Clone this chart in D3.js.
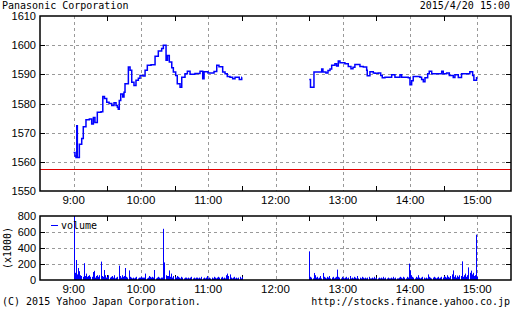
<!DOCTYPE html>
<html>
<head>
<meta charset="utf-8">
<script src="https://cdn.jsdelivr.net/npm/d3@7"></script>
<style>
  body { margin: 0; background: #fff; }
  svg { display: block; }
  .mono { font-family: "DejaVu Sans Mono", monospace; font-size: 10px; }
  .tick-label { font-family: "Liberation Sans", Arial, sans-serif; font-size: 11px; }
  .time-label { font-family: "Liberation Sans", Arial, sans-serif; font-size: 11.5px; }
</style>
</head>
<body>
<div id="chart"></div>
<script>
// minutes after 9:00 and price (yen), morning / afternoon sessions
var amTimes = [0, 1.2, 2.1, 2.8, 3.3, 5.1, 7.2, 8.6, 11, 14, 16.1, 17.6, 19, 21.1, 24.4, 26, 27.5, 29.5, 31.6, 34, 36, 37.8, 39, 39.8, 40.7, 42, 43.8, 44.9, 45.8, 48.8, 50.3, 51.8, 53.8, 55.6, 57.7, 59.2, 61.9, 63.7, 65.7, 69, 72.6, 75.5, 78.5, 80, 82.4, 83.7, 85.3, 87.5, 88.9, 91, 92.4, 94.9, 96.4, 99.3, 101.4, 103.8, 108.2, 112.7, 115.1, 116.3, 119.8, 125.2, 127.6, 129.6, 132.9, 135, 137, 139.4, 141.8, 143.9, 147.7, 149.9, 150];
var amPrices = [1563.2, 1562, 1561.5, 1572.4, 1561.5, 1566, 1568, 1572, 1574.4, 1574.7, 1573, 1575.2, 1573.5, 1577, 1577.2, 1582.4, 1581.7, 1580.4, 1580, 1579.3, 1580.3, 1579.3, 1578.7, 1578, 1581, 1583.3, 1582.2, 1583.9, 1586.8, 1592.5, 1591.4, 1587.3, 1586.2, 1588, 1588.7, 1589.6, 1589.4, 1591.4, 1593.1, 1593.3, 1596.2, 1598, 1598.9, 1600, 1594.8, 1596.5, 1594.2, 1592.3, 1590.8, 1589.6, 1586.8, 1585.6, 1589, 1590.2, 1591.1, 1590, 1590.3, 1591.1, 1588.5, 1590.9, 1590.5, 1591, 1593.1, 1592.6, 1590.8, 1590.2, 1589.3, 1589, 1588.5, 1589, 1588.2, 1589, 1589];
var pmTimes = [210.1, 211.2, 213.4, 214.3, 219.7, 221.2, 222.3, 225, 226.8, 228.6, 230.1, 233, 234.5, 236, 237.5, 241.9, 244.9, 247.3, 249.1, 250.8, 253.8, 255.3, 258.3, 261.3, 261.8, 264.2, 267.2, 268.7, 271.6, 273.8, 275.2, 277.6, 282.1, 283.6, 286.5, 291, 292.5, 298.4, 299.9, 301.4, 302.8, 308.8, 310.3, 311.8, 313.3, 315.7, 317.1, 319.3, 325.8, 328.2, 329.6, 332.6, 335, 338.5, 340, 343, 345.9, 351.8, 353.3, 355.8, 356.9, 359.3, 360];
var pmPrices = [1588.2, 1585.6, 1585.6, 1590.8, 1590.8, 1591.8, 1590.8, 1590.5, 1591.3, 1591.8, 1593.1, 1593.6, 1592.9, 1594.6, 1594, 1593.6, 1592.7, 1591.9, 1592.4, 1593.4, 1593.4, 1592.7, 1592.5, 1591.4, 1589.5, 1590.9, 1590.5, 1590.4, 1590.5, 1589.6, 1588.8, 1589, 1589, 1589.9, 1589, 1589.9, 1589, 1588.8, 1586.4, 1587.8, 1589.3, 1589, 1588.2, 1587.5, 1588.8, 1590.2, 1591.1, 1590.2, 1590.2, 1591.1, 1590.2, 1590.5, 1589.6, 1588.9, 1589.9, 1588.9, 1590.2, 1590.2, 1590.9, 1589.6, 1588, 1588.8, 1588.8];
var prevClose = 1557.7;

// volume (x1000) per minute, 9:00-11:30 and 12:30-15:00
var amVolume = [800,
  90, 250, 70, 150, 110, 60, 50, 40, 210, 50,
  80, 40, 50, 60, 40, 40, 100, 115, 30, 50,
  60, 40, 60, 230, 50, 40, 125, 60, 30, 40,
  60, 30, 40, 50, 30, 60, 20, 30, 40, 180,
  50, 30, 60, 40, 50, 150, 40, 30, 120, 40,
  30, 20, 30, 20, 30, 40, 20, 30, 30, 40,
  30, 30, 30, 80, 20, 30, 50, 40, 30, 40,
  30, 125, 20, 30, 40, 30, 20, 30, 30, 640,
  220, 60, 50, 50, 120, 40, 80, 30, 50, 40,
  30, 50, 40, 30, 20, 40, 30, 20, 30, 30,
  20, 30, 20, 30, 40, 20, 30, 20, 30, 30,
  20, 30, 20, 40, 20, 30, 20, 30, 50, 20,
  30, 20, 30, 20, 40, 30, 20, 30, 40, 30,
  30, 40, 20, 30, 20, 60, 80, 50, 70, 30,
  20, 30, 40, 20, 30, 20, 30, 40, 20, 40];
var pmVolume = [358,
  40, 30, 20, 88, 60, 30, 40, 20, 30, 50,
  20, 88, 40, 30, 20, 40, 30, 50, 20, 30,
  40, 20, 30, 40, 130, 40, 30, 20, 40, 30,
  20, 30, 40, 20, 30, 50, 20, 30, 20, 40,
  30, 20, 50, 20, 30, 20, 40, 30, 20, 30,
  20, 30, 40, 20, 20, 30, 20, 40, 20, 30,
  20, 30, 20, 30, 20, 40, 20, 30, 20, 30,
  20, 20, 30, 20, 40, 20, 30, 20, 20, 30,
  40, 30, 20, 40, 30, 20, 40, 30, 205, 120,
  60, 40, 30, 20, 40, 30, 60, 30, 20, 30,
  40, 30, 20, 30, 20, 70, 40, 30, 20, 30,
  40, 30, 20, 30, 40, 20, 30, 40, 30, 50,
  40, 30, 60, 40, 30, 50, 70, 120, 40, 60,
  30, 55, 40, 60, 50, 233, 40, 60, 80, 40,
  60, 158, 90, 117, 70, 90, 50, 60, 567, 40];

var hourTicks = [0, 60, 120, 180, 240, 300, 360];
var hourLabels = ["9:00", "10:00", "11:00", "12:00", "13:00", "14:00", "15:00"];
var halfTicks = [-30, 30, 90, 150, 210, 270, 330, 390];
var priceTicks = [1550, 1560, 1570, 1580, 1590, 1600, 1610];
var volumeTicks = [0, 200, 400, 600, 800];

var width = 512, height = 310;
var plot = {left: 40, right: 511, top: 16, bottom: 191};
var vplot = {top: 216, bottom: 280};

var svg = d3.select('#chart')
  .append('svg')
    .attr('width', width)
    .attr('height', height);

var x = d3.scaleLinear()
  .domain([-30, 390])
  .range([plot.left, plot.right]);

var y = d3.scaleLinear()
  .domain([1550, 1610])
  .range([plot.bottom, plot.top]);

var yv = d3.scaleLinear()
  .domain([0, 800])
  .range([vplot.bottom, vplot.top]);

function panel(top, bottom, yScale, yTicks, gridTicks) {
  var g = svg.append('g');

  // dashed grid
  g.selectAll('.vgrid')
    .data(hourTicks)
    .enter().append('line')
      .attr('x1', function(d) { return Math.round(x(d)) + 0.5; })
      .attr('x2', function(d) { return Math.round(x(d)) + 0.5; })
      .attr('y1', top)
      .attr('y2', bottom)
      .attr('stroke', '#999')
      .attr('stroke-dasharray', '3,3');

  g.selectAll('.hgrid')
    .data(gridTicks)
    .enter().append('line')
      .attr('x1', plot.left)
      .attr('x2', plot.right)
      .attr('y1', function(d) { return Math.round(yScale(d)) + 0.5; })
      .attr('y2', function(d) { return Math.round(yScale(d)) + 0.5; })
      .attr('stroke', '#999')
      .attr('stroke-dasharray', '3,3');

  // inward ticks
  var inner = yTicks.slice(1, -1);
  g.selectAll('.ltick')
    .data(inner)
    .enter().append('line')
      .attr('x1', plot.left).attr('x2', plot.left + 5)
      .attr('y1', function(d) { return Math.round(yScale(d)) + 0.5; })
      .attr('y2', function(d) { return Math.round(yScale(d)) + 0.5; })
      .attr('stroke', '#000');
  g.selectAll('.rtick')
    .data(inner)
    .enter().append('line')
      .attr('x1', plot.right - 5).attr('x2', plot.right)
      .attr('y1', function(d) { return Math.round(yScale(d)) + 0.5; })
      .attr('y2', function(d) { return Math.round(yScale(d)) + 0.5; })
      .attr('stroke', '#000');
  g.selectAll('.btick')
    .data(halfTicks.slice(1, -1))
    .enter().append('line')
      .attr('x1', function(d) { return Math.round(x(d)) + 0.5; })
      .attr('x2', function(d) { return Math.round(x(d)) + 0.5; })
      .attr('y1', bottom - 5).attr('y2', bottom)
      .attr('stroke', '#000');
  g.selectAll('.ttick')
    .data(halfTicks.slice(1, -1))
    .enter().append('line')
      .attr('x1', function(d) { return Math.round(x(d)) + 0.5; })
      .attr('x2', function(d) { return Math.round(x(d)) + 0.5; })
      .attr('y1', top).attr('y2', top + 5)
      .attr('stroke', '#000');

  // labels
  g.selectAll('.ylab')
    .data(yTicks)
    .enter().append('text')
      .attr('class', 'tick-label')
      .attr('x', plot.left - 4)
      .attr('y', function(d) { return yScale(d) + 4; })
      .attr('text-anchor', 'end')
      .text(function(d) { return d; });

  g.selectAll('.xlab')
    .data(hourTicks)
    .enter().append('text')
      .attr('class', 'time-label')
      .attr('x', function(d) { return x(d); })
      .attr('y', bottom + 13)
      .attr('text-anchor', 'middle')
      .text(function(d, i) { return hourLabels[i]; });

  return g;
}

var gMain = panel(plot.top, plot.bottom, y, priceTicks, [1560, 1570, 1580, 1590, 1600]);
var gVol = panel(vplot.top, vplot.bottom, yv, volumeTicks, [200, 400, 600]);

// previous close
gMain.append('line')
  .attr('x1', plot.left).attr('x2', plot.right)
  .attr('y1', Math.round(y(prevClose)) + 0.5)
  .attr('y2', Math.round(y(prevClose)) + 0.5)
  .attr('stroke', '#e00000')
  .attr('stroke-width', 1);

// price lines
var line = d3.line()
  .x(function(d) { return x(d[0]); })
  .y(function(d) { return y(d[1]); })
  .curve(d3.curveStepAfter);

[[amTimes, amPrices], [pmTimes, pmPrices]].forEach(function(s) {
  var pts = s[0].map(function(t, i) { return [t, s[1][i]]; });
  gMain.append('path')
    .datum(pts)
    .attr('d', line)
    .attr('fill', 'none')
    .attr('stroke', '#0000ff')
    .attr('stroke-width', 1.5);
});

// volume bars
var vol = [];
amVolume.forEach(function(v, i) { vol.push([i, v]); });
pmVolume.forEach(function(v, i) { vol.push([210 + i, v]); });

gVol.selectAll('.bar')
  .data(vol)
  .enter().append('rect')
    .attr('x', function(d) { return Math.round(x(d[0])); })
    .attr('y', function(d) { return yv(Math.min(d[1], 800)); })
    .attr('width', 1)
    .attr('height', function(d) { return vplot.bottom - yv(Math.min(d[1], 800)); })
    .attr('fill', '#0000ff');

// frames
[[plot.top, plot.bottom], [vplot.top, vplot.bottom]].forEach(function(p) {
  svg.append('rect')
    .attr('x', plot.left)
    .attr('y', p[0])
    .attr('width', plot.right - plot.left)
    .attr('height', p[1] - p[0])
    .attr('fill', 'none')
    .attr('stroke', '#000')
    .attr('stroke-width', 1.5);
});

// legend
gVol.append('line')
  .attr('x1', 51).attr('x2', 58)
  .attr('y1', 225.5).attr('y2', 225.5)
  .attr('stroke', '#0000ff');
gVol.append('text')
  .attr('class', 'mono')
  .attr('x', 61).attr('y', 229)
  .text('volume');

svg.append('text')
  .attr('class', 'mono')
  .attr('transform', 'translate(11,248) rotate(-90)')
  .attr('text-anchor', 'middle')
  .text('(x1000)');

// titles
svg.append('text').attr('class', 'mono')
  .attr('x', 2).attr('y', 9)
  .text('Panasonic Corporation');
svg.append('text').attr('class', 'mono')
  .attr('x', 510).attr('y', 9)
  .attr('text-anchor', 'end')
  .text('2015/4/20 15:00');
svg.append('text').attr('class', 'mono')
  .attr('x', 2).attr('y', 305)
  .text('(C) 2015 Yahoo Japan Corporation.');
svg.append('text').attr('class', 'mono')
  .attr('x', 510).attr('y', 305)
  .attr('text-anchor', 'end')
  .text('http://stocks.finance.yahoo.co.jp');
</script>
</body>
</html>
